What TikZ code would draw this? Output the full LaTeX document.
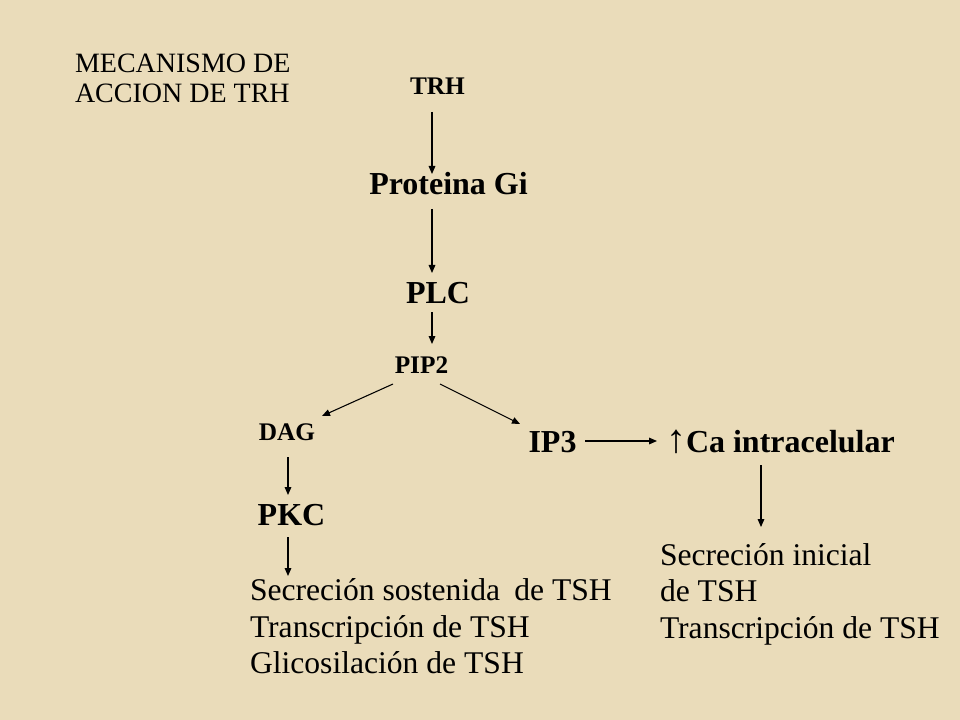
\documentclass[tikz,border=0pt]{standalone}
\usepackage{fontspec}
\setmainfont{Liberation Serif}
\usetikzlibrary{arrows.meta}
\definecolor{parch}{RGB}{234,220,186}
\tikzset{
  lbl/.style={inner sep=0pt, outer sep=0pt},
  smallbold/.style={lbl, anchor=base, font=\fontsize{19}{22}\selectfont\bfseries},
  bigbold/.style={lbl, anchor=base, font=\fontsize{24}{28}\selectfont\bfseries},
  plain/.style={lbl, anchor=base west, font=\fontsize{23.7}{28}\selectfont},
  titletext/.style={lbl, anchor=base west, font=\fontsize{21}{25}\selectfont},
  arr/.style={draw=black, line width=0.8pt, -{Triangle[length=6pt,width=5pt]}}
}
\begin{document}
\begin{tikzpicture}[x=0.75pt,y=-0.75pt]
\fill[parch] (0,0) rectangle (960,720);
\useasboundingbox (0,0) rectangle (960,720);

\node[titletext] (tit1) at (75,73) {MECANISMO DE};
\node[titletext] (tit2) at (75,103) {ACCION DE TRH};

\node[smallbold] (trh) at (437.5,95) {TRH};
\node[bigbold] (gi) at (448.5,195) {Proteina Gi};
\node[bigbold] (plc) at (438,303) {PLC};
\node[smallbold] (pip2) at (421.5,373) {PIP2};
\node[smallbold] (dag) at (287,440) {DAG};
\node[bigbold] (ip3) at (552.5,452) {IP3};
\node[lbl, anchor=base west, font=\fontsize{24}{28}\selectfont] (ca) at (666,452) {{\fontsize{30}{30}\selectfont ↑}\textbf{Ca intracelular}};
\node[bigbold] (pkc) at (291.5,525) {PKC};

\node[plain] (sec1) at (250,600.7) {Secreción sostenida\hspace{0.45em}de TSH};
\node[plain] (sec2) at (250,637) {Transcripción de TSH};
\node[plain] (sec3) at (250,673.3) {Glicosilación de TSH};

\node[plain] (ini1) at (660,565) {Secreción inicial};
\node[plain] (ini2) at (660,601.5) {de TSH};
\node[plain] (ini3) at (660,638) {Transcripción de TSH};

\draw[arr] ([shift={(-5.5,17)}]trh.base) -- ([shift={(-16.5,-21)}]gi.base);
\draw[arr] ([shift={(-16.5,14)}]gi.base) -- ([shift={(-6,-30)}]plc.base);
\draw[arr] ([shift={(-6,9)}]plc.base) -- ([shift={(10.5,-29)}]pip2.base);
\draw[arr] ([shift={(-28.5,11)}]pip2.base) -- ([shift={(35,-24)}]dag.base);
\draw[arr] ([shift={(18.5,11)}]pip2.base) -- ([shift={(-32.5,-28)}]ip3.base);
\draw[arr] ([shift={(32.5,-11)}]ip3.base) -- ([shift={(-9,-11)}]ca.base west);
\draw[arr] ([shift={(1,17)}]dag.base) -- ([shift={(-3.5,-30)}]pkc.base);
\draw[arr] ([shift={(-3.5,12)}]pkc.base) -- ([shift={(38,-24.7)}]sec1.base west);
\draw[arr] ([shift={(95,13)}]ca.base west) -- ([shift={(101,-38)}]ini1.base west);
\end{tikzpicture}
\end{document}
